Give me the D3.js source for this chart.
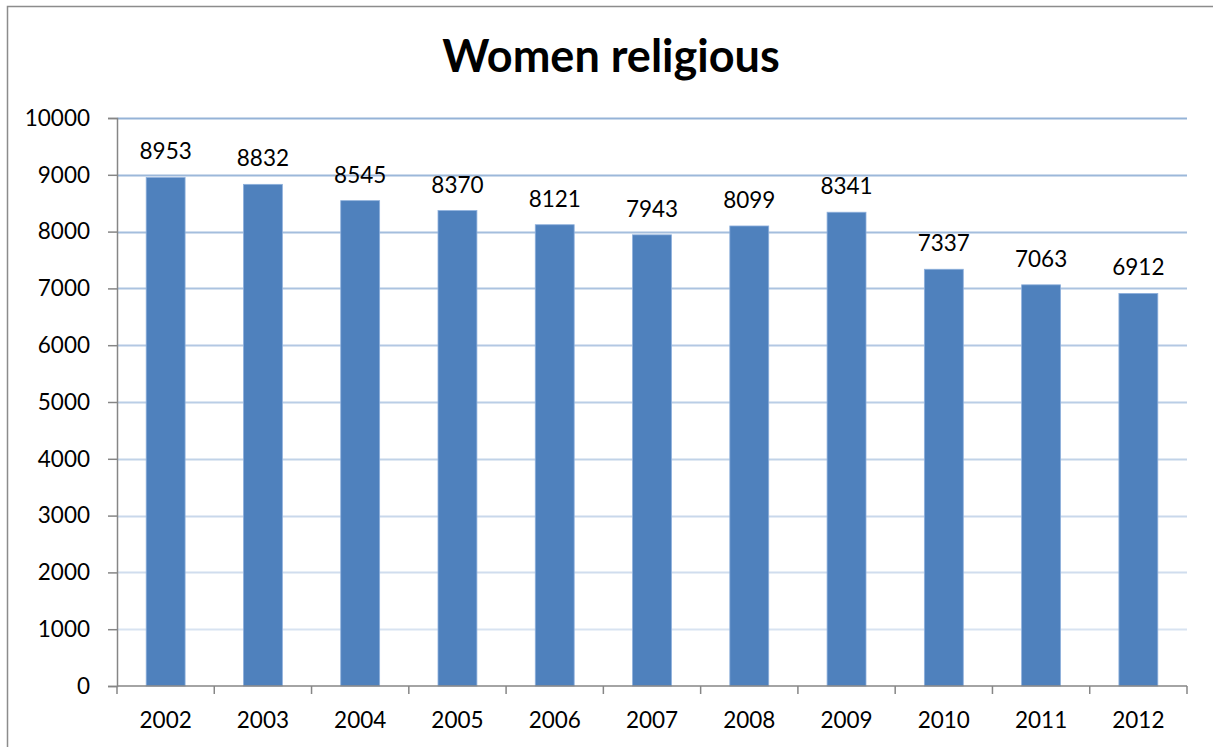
<!DOCTYPE html>
<html>
<head>
<meta charset="utf-8">
<script src="https://cdn.jsdelivr.net/npm/d3@7"></script>
<style>
  body { margin: 0; background: #fff; }
  text { font-family: Lato, "Open Sans", sans-serif; fill: #000; }
</style>
</head>
<body>
<div id="chart"></div>
<script>
// Chart data
const years = ["2002", "2003", "2004", "2005", "2006", "2007", "2008", "2009", "2010", "2011", "2012"];
const counts = [8953, 8832, 8545, 8370, 8121, 7943, 8099, 8341, 7337, 7063, 6912];
const yTicks = [0, 1000, 2000, 3000, 4000, 5000, 6000, 7000, 8000, 9000, 10000];

const width = 1213;
const height = 747;
const plot = { left: 117, right: 1187, top: 118, bottom: 686 };
const labelSize = "22.5px";

const svg = d3.select("#chart")
  .append("svg")
  .attr("width", width)
  .attr("height", height);

// Outer chart border
svg.append("rect")
  .attr("x", 7.5)
  .attr("y", 6.5)
  .attr("width", 1220)
  .attr("height", 760)
  .attr("fill", "none")
  .attr("stroke", "#8c8c8c")
  .attr("stroke-width", 1.5);

const x = d3.scaleBand()
  .domain(years)
  .range([plot.left, plot.right])
  .paddingInner(0.6)
  .paddingOuter(0.3);

const y = d3.scaleLinear()
  .domain([0, 10000])
  .range([plot.bottom, plot.top]);

// Gridlines fade lighter toward the bottom
const gridColor = d3.scaleLinear()
  .domain([0, 10000])
  .range(["#dfe8f4", "#95b3d7"])
  .interpolate(d3.interpolateRgb);

svg.append("g")
  .selectAll("line")
  .data(yTicks.filter(d => d > 0))
  .join("line")
  .attr("x1", plot.left)
  .attr("x2", plot.right)
  .attr("y1", d => Math.round(y(d)) + 0.5)
  .attr("y2", d => Math.round(y(d)) + 0.5)
  .attr("stroke", d => gridColor(d))
  .attr("stroke-width", 2);

// Bars
svg.append("g")
  .selectAll("rect")
  .data(counts)
  .join("rect")
  .attr("x", (d, i) => x(years[i]))
  .attr("y", d => y(d))
  .attr("width", x.bandwidth())
  .attr("height", d => y(0) - y(d))
  .attr("fill", "#4f81bd")
  .attr("stroke", "#8eb0dc")
  .attr("stroke-width", 0.8);

// Value labels
svg.append("g")
  .selectAll("text")
  .data(counts)
  .join("text")
  .attr("x", (d, i) => x(years[i]) + x.bandwidth() / 2)
  .attr("y", d => y(d) - 18)
  .attr("text-anchor", "middle")
  .style("font-size", labelSize)
  .text(d => d);

// Y axis
const yAxis = svg.append("g")
  .attr("transform", `translate(${plot.left},0)`)
  .call(d3.axisLeft(y).tickValues(yTicks).tickSize(9).tickPadding(18).tickFormat(d3.format("d")));
yAxis.selectAll("path, line").attr("stroke", "#868686").attr("stroke-width", 1.5);
yAxis.selectAll("text").style("font-size", labelSize).attr("fill", "#000")
  .style("font-family", "Lato, 'Open Sans', sans-serif");

// X axis with ticks between categories
const xAxis = svg.append("g")
  .attr("transform", `translate(0,${plot.bottom})`);
xAxis.append("line")
  .attr("x1", plot.left)
  .attr("x2", plot.right)
  .attr("stroke", "#868686")
  .attr("stroke-width", 1.5);
xAxis.selectAll("line.tick")
  .data(d3.range(years.length + 1))
  .join("line")
  .attr("class", "tick")
  .attr("x1", i => plot.left + i * (plot.right - plot.left) / years.length)
  .attr("x2", i => plot.left + i * (plot.right - plot.left) / years.length)
  .attr("y1", 0)
  .attr("y2", 8)
  .attr("stroke", "#868686")
  .attr("stroke-width", 1.5);
xAxis.selectAll("text.year")
  .data(years)
  .join("text")
  .attr("class", "year")
  .attr("x", d => x(d) + x.bandwidth() / 2)
  .attr("y", 42)
  .attr("text-anchor", "middle")
  .style("font-size", labelSize)
  .text(d => d);

// Title
svg.append("text")
  .attr("x", 611)
  .attr("y", 72)
  .attr("text-anchor", "middle")
  .style("font-size", "45px")
  .style("font-weight", "bold")
  .text("Women religious");
</script>
</body>
</html>
